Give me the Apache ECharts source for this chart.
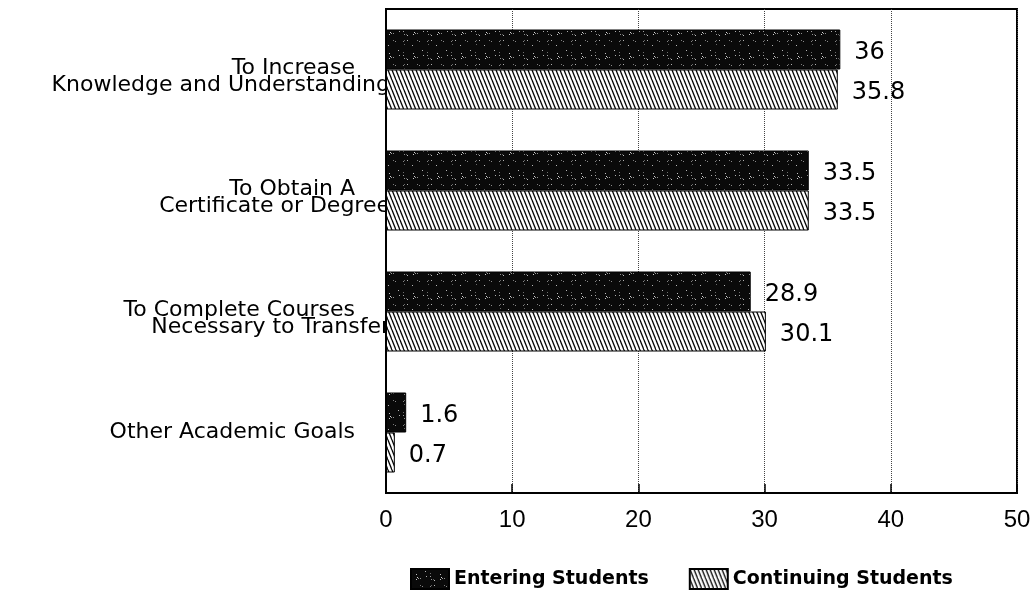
<!DOCTYPE html>
<html>
<head>
<meta charset="utf-8">
<script src="https://cdn.jsdelivr.net/npm/echarts@6/dist/echarts.min.js"></script>
<style>
html,body{margin:0;padding:0;background:#fff;}
#chart{width:1034px;height:592px;}
</style>
</head>
<body>
<div id="chart"></div>
<script>
// ---- data ----
const categories = [
  'To Increase\nKnowledge and Understanding',
  'To Obtain A\nCertificate or Degree',
  'To Complete Courses\nNecessary to Transfer',
  'Other Academic Goals'
];
const seriesNames = ['Entering Students', 'Continuing Students'];
const enteringValues = [36, 33.5, 28.9, 1.6];
const continuingValues = [35.8, 33.5, 30.1, 0.7];
const xMin = 0, xMax = 50, xStep = 10;

// ---- textures ----
function makeHatch() {
  const c = document.createElement('canvas');
  c.width = 4; c.height = 10;
  const ctx = c.getContext('2d');
  ctx.fillStyle = '#fff';
  ctx.fillRect(0, 0, 4, 10);
  ctx.strokeStyle = '#000';
  ctx.lineWidth = 1.3;
  [-4, 0, 4].forEach(function (k) {
    ctx.beginPath();
    ctx.moveTo(k, 0);
    ctx.lineTo(k + 4, 10);
    ctx.stroke();
  });
  return c;
}
function makeSpeckle() {
  const s = 24;
  const c = document.createElement('canvas');
  c.width = s; c.height = s;
  const ctx = c.getContext('2d');
  ctx.fillStyle = '#0a0a0a';
  ctx.fillRect(0, 0, s, s);
  let seed = 12345;
  function lcg() { seed = (seed * 1103515245 + 12345) % 2147483648; return seed / 2147483648; }
  for (let i = 0; i < 20; i++) {
    const x = Math.floor(lcg() * s), y = Math.floor(lcg() * s);
    const g = 90 + Math.floor(lcg() * 130);
    ctx.fillStyle = 'rgb(' + g + ',' + g + ',' + g + ')';
    ctx.fillRect(x, y, 1, 1);
  }
  return c;
}
const hatchPattern = { image: makeHatch(), repeat: 'repeat' };
const specklePattern = { image: makeSpeckle(), repeat: 'repeat' };

const labelFont = 'DejaVu Sans';
const chart = echarts.init(document.getElementById('chart'), null, { renderer: 'canvas' });

const valueLabel = {
  show: true,
  position: 'right',
  distance: 14,
  offset: [0, 3],
  color: '#000',
  fontFamily: labelFont,
  fontSize: 24
};

chart.setOption({
  animation: false,
  backgroundColor: '#fff',
  grid: {
    left: 386, right: 17, top: 9, bottom: 99,
    show: true, borderColor: '#000', borderWidth: 2,
    containLabel: false
  },
  legend: {
    data: seriesNames,
    left: 405, top: 563,
    icon: 'rect',
    itemWidth: 38, itemHeight: 20, itemGap: 40,
    textStyle: { fontFamily: labelFont, fontWeight: 'bold', fontSize: 19, color: '#000' }
  },
  xAxis: {
    type: 'value',
    min: xMin, max: xMax, interval: xStep,
    axisLine: { show: true, lineStyle: { color: '#000', width: 2 } },
    axisTick: { show: true, inside: true, length: 9, lineStyle: { color: '#000', width: 1.5 } },
    axisLabel: { color: '#000', fontFamily: 'Liberation Sans', fontSize: 24, margin: 15 },
    splitLine: { show: true, lineStyle: { color: '#444', width: 1, type: 'dotted' } }
  },
  yAxis: {
    type: 'category',
    data: categories,
    inverse: true,
    axisLine: { show: true, lineStyle: { color: '#000', width: 2 } },
    axisTick: { show: false },
    splitLine: { show: false },
    axisLabel: {
      margin: -4,
      color: '#000',
      fontFamily: labelFont,
      fontSize: 22,
      formatter: function (v) {
        const parts = v.split('\n');
        if (parts.length > 1) return '{a|' + parts[0] + '}\n{b|' + parts[1] + '}';
        return '{c|' + parts[0] + '}';
      },
      rich: {
        a: { fontFamily: labelFont, fontSize: 22, color: '#000', lineHeight: 17, align: 'right', padding: [14, 35, 0, 0] },
        b: { fontFamily: labelFont, fontSize: 22, color: '#000', lineHeight: 17, align: 'right', padding: [14, 0, 0, 0] },
        c: { fontFamily: labelFont, fontSize: 22, color: '#000', lineHeight: 17, align: 'right', padding: [0, 35, 0, 0] }
      }
    }
  },
  series: [
    {
      name: seriesNames[0],
      type: 'bar',
      data: enteringValues,
      barWidth: 40,
      barGap: '0%',
      itemStyle: { color: specklePattern, borderColor: '#000', borderWidth: 1 },
      label: valueLabel
    },
    {
      name: seriesNames[1],
      type: 'bar',
      data: continuingValues,
      barWidth: 40,
      barGap: '0%',
      itemStyle: { color: hatchPattern, borderColor: '#000', borderWidth: 1 },
      label: valueLabel
    }
  ]
});
</script>
</body>
</html>
